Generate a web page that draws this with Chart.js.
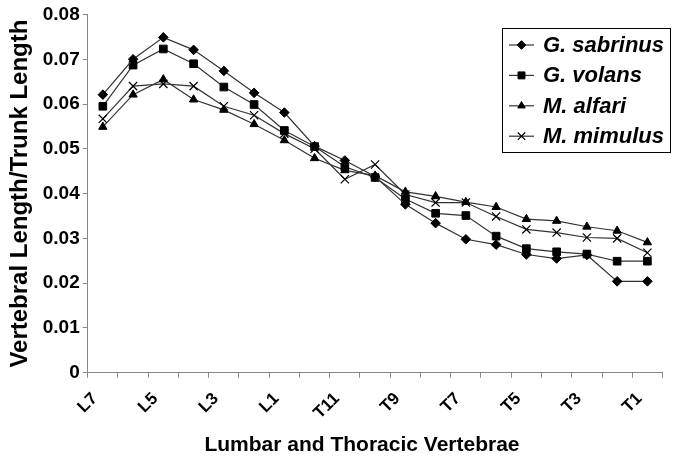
<!DOCTYPE html>
<html>
<head>
<meta charset="utf-8">
<title>Vertebral length / trunk length</title>
<script src="https://cdn.jsdelivr.net/npm/chart.js@4.4.0/dist/chart.umd.min.js"></script>
<style>
  html, body { margin: 0; padding: 0; background: #fff; }
  #wrap { width: 673px; height: 458px; }
</style>
</head>
<body>
<div id="wrap"><canvas id="c" width="673" height="458"></canvas></div>
<script>
/* vertebral length / trunk length, lumbar L7 .. thoracic T1 */
const vertebrae = ['L7', 'L6', 'L5', 'L4', 'L3', 'L2', 'L1', 'T12', 'T11', 'T10',
    'T9', 'T8', 'T7', 'T6', 'T5', 'T4', 'T3', 'T2', 'T1'];

const sabrinus = [0.0621, 0.0700, 0.0749, 0.0721, 0.0674, 0.0625, 0.0581, 0.0506, 0.0474, 0.0438,
    0.0376, 0.0334, 0.0298, 0.0286, 0.0264, 0.0255, 0.0263, 0.0204, 0.0204];
const volans = [0.0595, 0.0687, 0.0723, 0.0690, 0.0638, 0.0599, 0.0541, 0.0505, 0.0460, 0.0436,
    0.0388, 0.0356, 0.0351, 0.0305, 0.0277, 0.0270, 0.0265, 0.0249, 0.0249];
const alfari = [0.0549, 0.0621, 0.0655, 0.0610, 0.0587, 0.0555, 0.0519, 0.0479, 0.0452, 0.0440,
    0.0404, 0.0394, 0.0381, 0.0370, 0.0343, 0.0339, 0.0326, 0.0317, 0.0291];
const mimulus = [0.0567, 0.0640, 0.0645, 0.0640, 0.0595, 0.0575, 0.0534, 0.0500, 0.0432, 0.0465,
    0.0398, 0.0380, 0.0380, 0.0349, 0.0320, 0.0313, 0.0302, 0.0300, 0.0268];

const seriesNames = ['G. sabrinus', 'G. volans', 'M. alfari', 'M. mimulus'];
const xTitle = 'Lumbar and Thoracic Vertebrae';
const yTitle = 'Vertebral Length/Trunk Length';

const FONT = "'Liberation Sans', Arial, sans-serif";

function mkSet(label, data, style, r) {
    return {
        label, data,
        borderColor: '#333',
        borderWidth: 1.2,
        pointStyle: style,
        pointRadius: r,
        pointHoverRadius: r,
        pointBackgroundColor: '#000',
        pointBorderColor: '#000',
        pointBorderWidth: style === 'crossRot' ? 1.2 : 1,
        tension: 0,
        fill: false,
    };
}

// boxed legend with line + marker samples, top right inside plot
const boxLegend = {
    id: 'boxLegend',
    afterDraw(chart) {
        const ctx = chart.ctx;
        ctx.save();
        ctx.strokeStyle = '#000';
        ctx.lineWidth = 1;
        ctx.strokeRect(502.5, 28.5, 168, 124);
        ctx.font = `italic bold 22px ${FONT}`;
        ctx.textBaseline = 'middle';
        ctx.textAlign = 'left';
        chart.data.datasets.forEach((ds, i) => {
            const y = 45 + i * 30.4;
            ctx.strokeStyle = ds.borderColor;
            ctx.lineWidth = ds.borderWidth;
            ctx.beginPath(); ctx.moveTo(509, y); ctx.lineTo(534, y); ctx.stroke();
            ctx.fillStyle = '#000';
            ctx.strokeStyle = '#000';
            ctx.lineWidth = ds.pointBorderWidth;
            Chart.helpers.drawPoint(ctx, { pointStyle: ds.pointStyle, radius: ds.pointRadius - 0.5, borderWidth: ds.pointBorderWidth, rotation: 0 }, 521.5, y);
            ctx.fillStyle = '#000';
            ctx.fillText(ds.label, 543, y + 1);
        });
        // x axis title, centred a little left of the plot centre like the original
        ctx.font = `bold 21px ${FONT}`;
        ctx.textAlign = 'center';
        ctx.textBaseline = 'alphabetic';
        ctx.fillText(xTitle, 362, 451);
        ctx.restore();
    }
};

new Chart(document.getElementById('c'), {
    type: 'line',
    data: {
        labels: vertebrae,
        datasets: [
            mkSet(seriesNames[0], sabrinus, 'rectRot', 4.8),
            mkSet(seriesNames[1], volans, 'rect', 5.4),
            mkSet(seriesNames[2], alfari, 'triangle', 4.8),
            mkSet(seriesNames[3], mimulus, 'crossRot', 5.8),
        ]
    },
    options: {
        responsive: false,
        animation: false,
        devicePixelRatio: 1,
        layout: { padding: { top: 14.5, right: 0, bottom: 0, left: 0 } },
        plugins: { legend: { display: false }, tooltip: { enabled: false } },
        scales: {
            x: {
                type: 'category',
                offset: true,
                afterFit: s => { s.height = 85.3; },
                grid: { offset: true, drawOnChartArea: false, drawTicks: true, tickLength: 5, color: '#888' },
                border: { display: true, color: '#888', width: 1 },
                ticks: {
                    autoSkip: false,
                    minRotation: 45, maxRotation: 45,
                    padding: 11,
                    labelOffset: -8,
                    color: '#000',
                    font: { family: FONT, size: 17, weight: 'bold' },
                    callback: (v, i) => i % 2 === 0 ? vertebrae[i] : ''
                },
                title: { display: false }
            },
            y: {
                min: 0, max: 0.08,
                afterFit: s => { s.width = 87.7; },
                grid: { drawOnChartArea: false, drawTicks: true, tickLength: 5, color: '#888' },
                border: { display: true, color: '#888', width: 1 },
                ticks: {
                    stepSize: 0.01,
                    padding: 3,
                    color: '#000',
                    font: { family: FONT, size: 19, weight: 'bold' },
                    callback: v => v === 0 ? '0' : v.toFixed(2)
                },
                title: {
                    display: true,
                    text: yTitle,
                    color: '#000',
                    padding: { top: 6, bottom: 0 },
                    font: { family: FONT, size: 24, weight: 'bold' }
                }
            }
        }
    },
    plugins: [boxLegend]
});
</script>
</body>
</html>
